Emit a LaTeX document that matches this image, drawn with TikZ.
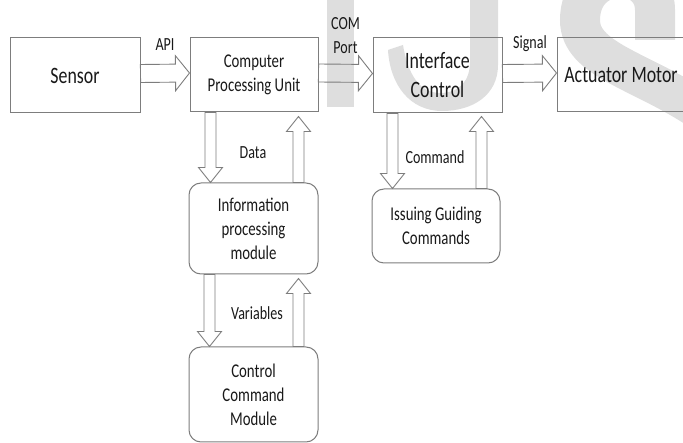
\documentclass[tikz,border=0pt]{standalone}
\usepackage{fontspec}
\setmainfont{Carlito}[FakeStretch=0.76]
\usetikzlibrary{calc}
\definecolor{wm}{RGB}{222,222,222}
\definecolor{linec}{RGB}{125,125,125}
\definecolor{txt}{RGB}{25,25,25}
\newcommand{\bigtxt}{\fontsize{23.5}{29}\selectfont}
\newcommand{\midtxt}{\fontsize{19.5}{24}\selectfont}
\newcommand{\lbltxt}{\fontsize{18.5}{24}\selectfont}
\begin{document}
\begin{tikzpicture}[x=1pt,y=-1pt,
  box/.style={draw=linec, line width=1pt, rectangle, inner sep=0pt, align=center, text=txt},
  rbox/.style={box, rounded corners=12pt},
  lbl/.style={text=txt, font=\lbltxt, inner sep=0pt, align=center},
  barrow/.style n args={3}{draw=linec, line width=0.9pt, line join=miter,
    to path={($(\tikztostart)!#1!90:(\tikztotarget)$)
      -- ($(\tikztotarget)!#3!(\tikztostart)!#1!-90:(\tikztostart)$)
      -- ($(\tikztotarget)!#3!(\tikztostart)!#2!-90:(\tikztostart)$)
      -- (\tikztotarget)
      -- ($(\tikztotarget)!#3!(\tikztostart)!#2!90:(\tikztostart)$)
      -- ($(\tikztotarget)!#3!(\tikztostart)!#1!90:(\tikztostart)$)
      -- ($(\tikztostart)!#1!-90:(\tikztotarget)$) -- cycle}},
  harrow/.style={barrow={9pt}{17.5pt}{14pt}},
  varrow/.style={barrow={5.5pt}{12pt}{15pt}}
]
\useasboundingbox (0,0) rectangle (683,443);
% watermark
\fill[wm] (327,0) rectangle (354,107);
\fill[wm] (470,0) -- (498,0) -- (498,65) .. controls (498,95) and (473,111) .. (442,111)
  .. controls (410,111) and (390,85) .. (388,50) -- (403,45)
  .. controls (408,75) and (420,93) .. (440,93) .. controls (460,93) and (470,80) .. (470,62) -- cycle;
\draw[wm, line width=40pt] (655,40) -- (655,10) .. controls (655,-35) and (580,-35) .. (580,20)
  .. controls (580,60) and (640,70) .. (700,110);
% boxes
\node[box, minimum width=130pt, minimum height=75pt, font=\bigtxt] (sensor) at (75,75.5) {Sensor};
\node[box, minimum width=128pt, minimum height=74pt, font=\midtxt] (cpu) at (254,75) {Computer\\Processing Unit};
\node[box, minimum width=129pt, minimum height=75pt, font=\bigtxt] (iface) at (437.5,75.5) {Interface\\Control};
\node[box, minimum width=134pt, minimum height=74pt, font=\bigtxt] (act) at (624,75) {Actuator Motor\hspace*{6pt}};
\node[rbox, minimum width=129pt, minimum height=91pt, font=\midtxt] (info) at (253.5,228.5) {Information\\processing\\module};
\node[rbox, minimum width=129pt, minimum height=95pt, font=\midtxt] (ccm) at (253.5,394.5) {Control\\Command\\Module};
\node[rbox, minimum width=128pt, minimum height=74pt, font=\midtxt] (issue) at (436,226) {Issuing Guiding\\Commands};
% horizontal connectors
\coordinate (a1s) at ([yshift=2pt]sensor.east);
\coordinate (a1t) at ([yshift=2pt]cpu.west);
\coordinate (a2s) at ([yshift=2pt]cpu.east);
\coordinate (a2t) at ([yshift=2pt]iface.west);
\coordinate (a3s) at ([yshift=2pt]iface.east);
\coordinate (a3t) at ([yshift=2pt]act.west);
\draw[harrow] (a1s) to (a1t);
\draw[harrow] (a2s) to (a2t);
\draw[harrow] (a3s) to (a3t);
% vertical connectors
\coordinate (d1s) at ([xshift=21pt]cpu.south west);
\coordinate (d1t) at (d1s |- info.north);
\coordinate (u1s) at ([xshift=-20pt]info.north east);
\coordinate (u1t) at ($(u1s |- cpu.south)+(0,4)$);
\coordinate (d2s) at ([xshift=21pt]info.south west);
\coordinate (d2t) at (d2s |- ccm.north);
\coordinate (u2s) at ([xshift=-20pt]ccm.north east);
\coordinate (u2t) at ($(u2s |- info.south)+(0,4)$);
\coordinate (d3s) at ([xshift=20pt]iface.south west);
\coordinate (d3t) at (d3s |- issue.north);
\coordinate (u3s) at ([xshift=-19pt]issue.north east);
\coordinate (u3t) at ($(u3s |- iface.south)+(0,3)$);
\draw[varrow] (d1s) to (d1t);
\draw[varrow] (u1s) to (u1t);
\draw[varrow] (d2s) to (d2t);
\draw[varrow] (u2s) to (u2t);
\draw[varrow] (d3s) to (d3t);
\draw[varrow] (u3s) to (u3t);
% labels
\node[lbl] (lapi) at (165,45) {API};
\node[lbl] (lcom) at (345.5,36) {COM\\Port};
\node[lbl] (lsig) at (530,44) {Signal};
\node[lbl] (ldata) at (253,153) {Data};
\node[lbl] (lvar) at (257,313) {Variables};
\node[lbl] (lcmd) at (435,157) {Command};
\end{tikzpicture}
\end{document}
